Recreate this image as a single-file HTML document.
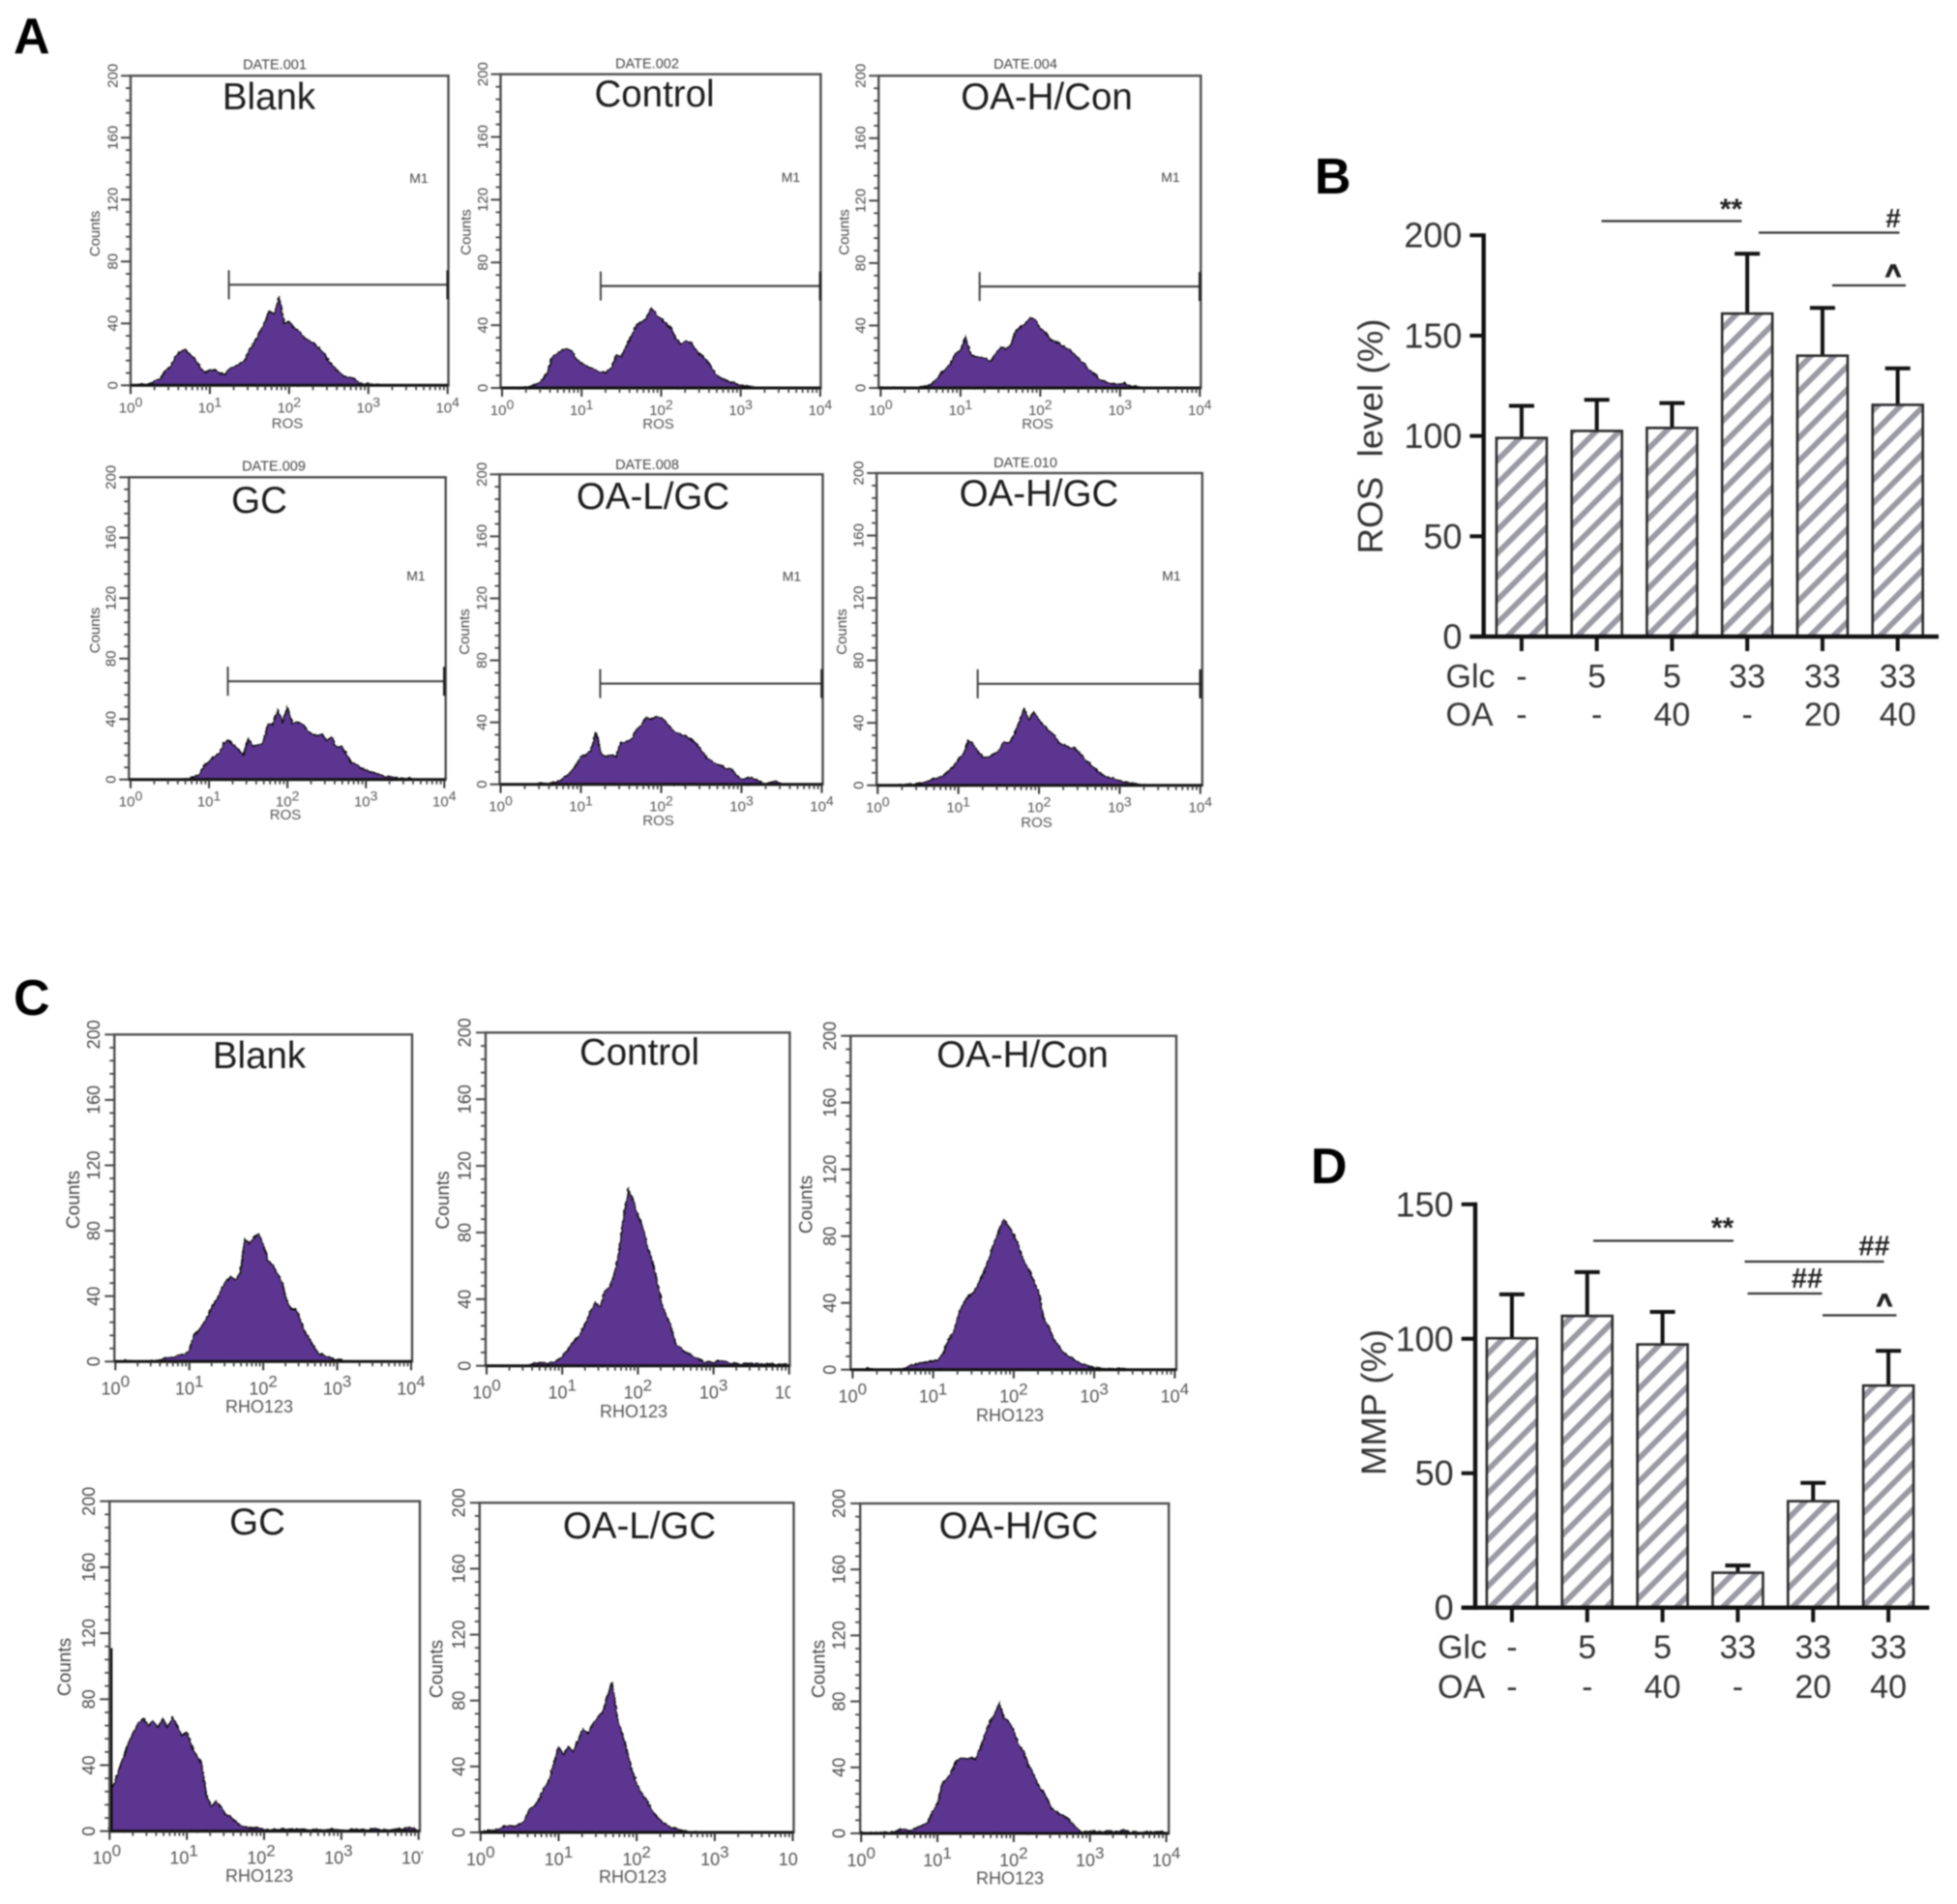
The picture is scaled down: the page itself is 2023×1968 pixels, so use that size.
<!DOCTYPE html>
<html lang="en">
<head>
<meta charset="utf-8">
<title>ROS and MMP flow cytometry figure</title>
<style>
html,body{margin:0;padding:0;background:#fff;}
#figure{position:absolute;left:0;top:0;width:2023px;height:1968px;filter:blur(0.7px);font-family:"Liberation Sans",Arial,sans-serif;}
.letter{font-size:52px;font-weight:bold;fill:#000;}
.title{font-size:38.5px;fill:#1c1c1c;text-anchor:middle;}
.date{font-size:14.5px;fill:#444;text-anchor:middle;}
.m1{font-size:14px;fill:#444;text-anchor:middle;}
.xt-a{font-size:15px;fill:#555;text-anchor:middle;}
.xt-c{font-size:18px;fill:#555;text-anchor:middle;}
.ct-a{font-size:15px;fill:#444;text-anchor:middle;}
.ct-c{font-size:19px;fill:#444;text-anchor:middle;}
.bar-axis-title{font-size:36px;fill:#333;text-anchor:middle;white-space:pre;}
.row-head{font-size:34px;fill:#333;}
.sig{font-weight:bold;fill:#222;text-anchor:middle;}
.caret{stroke:#222;stroke-width:1.2;}
.sig-line{stroke:#333;stroke-width:2.2;}
</style>
</head>
<body>
<svg id="figure" xmlns="http://www.w3.org/2000/svg" width="2023" height="1968" viewBox="0 0 2023 1968">
  <defs>
    <pattern id="hatch" patternUnits="userSpaceOnUse" width="17" height="17" patternTransform="rotate(45)">
      <rect width="17" height="17" fill="#ffffff"/>
      <rect width="5.8" height="17" fill="#9a9aa3"/>
    </pattern>
    <filter id="rough" x="-5%" y="-8%" width="110%" height="116%">
      <feTurbulence type="fractalNoise" baseFrequency="0.28" numOctaves="2" seed="7" result="noise"/>
      <feDisplacementMap in="SourceGraphic" in2="noise" scale="3.2" xChannelSelector="R" yChannelSelector="G"/>
    </filter>
  </defs>
  <rect x="0" y="0" width="2023" height="1968" fill="#ffffff"/>

  <g id="hist-layer"></g>
  <g id="bar-layer"></g>

  <!-- panel letters -->
  <text class="letter" x="14" y="55">A</text>
  <text class="letter" x="1359" y="200">B</text>
  <text class="letter" x="14" y="1049">C</text>
  <text class="letter" x="1355" y="1223">D</text>

  <!-- A: group titles -->
  <text class="title" x="278" y="113">Blank</text>
  <text class="title" x="676.5" y="110">Control</text>
  <text class="title" x="1082" y="113">OA-H/Con</text>
  <text class="title" x="268" y="530">GC</text>
  <text class="title" x="675" y="526">OA-L/GC</text>
  <text class="title" x="1074" y="523">OA-H/GC</text>

  <!-- A: date headers -->
  <text class="date" x="284" y="71.5">DATE.001</text>
  <text class="date" x="669" y="70.5">DATE.002</text>
  <text class="date" x="1060" y="71">DATE.004</text>
  <text class="date" x="283" y="486.5">DATE.009</text>
  <text class="date" x="669" y="485">DATE.008</text>
  <text class="date" x="1060" y="483">DATE.010</text>

  <!-- A: marker labels -->
  <text class="m1" x="433" y="189">M1</text>
  <text class="m1" x="817.5" y="188">M1</text>
  <text class="m1" x="1210" y="188">M1</text>
  <text class="m1" x="430" y="600">M1</text>
  <text class="m1" x="818.5" y="600.5">M1</text>
  <text class="m1" x="1211" y="600">M1</text>

  <!-- A: x titles -->
  <text class="xt-a" x="297" y="442.5">ROS</text>
  <text class="xt-a" x="680.5" y="443">ROS</text>
  <text class="xt-a" x="1072.5" y="443">ROS</text>
  <text class="xt-a" x="295" y="847">ROS</text>
  <text class="xt-a" x="680.5" y="853">ROS</text>
  <text class="xt-a" x="1071.5" y="855">ROS</text>

  <!-- A: y titles -->
  <text class="ct-a" transform="translate(103,241.5) rotate(-90)">Counts</text>
  <text class="ct-a" transform="translate(486.5,240) rotate(-90)">Counts</text>
  <text class="ct-a" transform="translate(877.5,240) rotate(-90)">Counts</text>
  <text class="ct-a" transform="translate(103,651.5) rotate(-90)">Counts</text>
  <text class="ct-a" transform="translate(485,653) rotate(-90)">Counts</text>
  <text class="ct-a" transform="translate(875,653) rotate(-90)">Counts</text>

  <!-- C: group titles -->
  <text class="title" x="268" y="1104">Blank</text>
  <text class="title" x="661" y="1100.5">Control</text>
  <text class="title" x="1057" y="1103">OA-H/Con</text>
  <text class="title" x="266" y="1586">GC</text>
  <text class="title" x="661" y="1590">OA-L/GC</text>
  <text class="title" x="1053" y="1590">OA-H/GC</text>

  <!-- C: x titles -->
  <text class="xt-c" x="268" y="1460">RHO123</text>
  <text class="xt-c" x="655" y="1465">RHO123</text>
  <text class="xt-c" x="1044" y="1469">RHO123</text>
  <text class="xt-c" x="268" y="1945">RHO123</text>
  <text class="xt-c" x="654" y="1946">RHO123</text>
  <text class="xt-c" x="1044" y="1947.5">RHO123</text>

  <!-- C: y titles -->
  <text class="ct-c" transform="translate(82,1240) rotate(-90)">Counts</text>
  <text class="ct-c" transform="translate(464,1240.5) rotate(-90)">Counts</text>
  <text class="ct-c" transform="translate(839.5,1245) rotate(-90)">Counts</text>
  <text class="ct-c" transform="translate(73,1723) rotate(-90)">Counts</text>
  <text class="ct-c" transform="translate(457.5,1725) rotate(-90)">Counts</text>
  <text class="ct-c" transform="translate(852.5,1725) rotate(-90)">Counts</text>

  <!-- B annotations -->
  <text class="bar-axis-title" transform="translate(1429,451) rotate(-90)" textLength="243" lengthAdjust="spacingAndGlyphs">ROS  level (%)</text>
  <text class="row-head" x="1494.5" y="710.5">Glc</text>
  <text class="row-head" x="1494.5" y="750">OA</text>
  <line class="sig-line" x1="1655.5" y1="228.5" x2="1800.5" y2="228.5"/>
  <text class="sig" x="1789.5" y="226" font-size="30">**</text>
  <line class="sig-line" x1="1818" y1="240.5" x2="1963.5" y2="240.5"/>
  <text class="sig" x="1957" y="235" font-size="28">#</text>
  <line class="sig-line" x1="1894" y1="295" x2="1970" y2="295"/>
  <text class="sig caret" x="1957" y="293" font-size="28">^</text>

  <!-- D annotations -->
  <text class="bar-axis-title" transform="translate(1432.5,1449.5) rotate(-90)" textLength="151" lengthAdjust="spacingAndGlyphs">MMP (%)</text>
  <text class="row-head" x="1486" y="1714">Glc</text>
  <text class="row-head" x="1486" y="1755">OA</text>
  <line class="sig-line" x1="1647" y1="1282.5" x2="1792" y2="1282.5"/>
  <text class="sig" x="1780.5" y="1279" font-size="30">**</text>
  <line class="sig-line" x1="1803.5" y1="1304" x2="1947.5" y2="1304"/>
  <text class="sig" x="1937.5" y="1297.5" font-size="29">##</text>
  <line class="sig-line" x1="1806.5" y1="1337" x2="1883.5" y2="1337"/>
  <text class="sig" x="1868" y="1331" font-size="29">##</text>
  <line class="sig-line" x1="1884" y1="1359.5" x2="1960.5" y2="1359.5"/>
  <text class="sig caret" x="1948" y="1357" font-size="28">^</text>
</svg>

<script>
// ---- Axis tick labels ----
const countTicks = [0, 40, 80, 120, 160, 200];
const decadeExponents = ['0', '1', '2', '3', '4'];
const rosTicks = [0, 50, 100, 150, 200];
const mmpTicks = [0, 50, 100, 150];

// ---- Histogram series (counts per 1/16 decade from 10^0) ----
const rosBlankCounts = [0,0,1,0.5,1,3,4.5,9,12,18,22,23,20,17,12,8,10,10,8,7,11,12,14,16,23,28,34,40,48,46,58,40,41,37,35,31,29,27,24,21,16,12,9,6,5,5,1.5,1,1,0.5,0.3];
const rosControlCounts = [0,0,0,0,0.5,0.5,1.5,2.5,5,9,19,22,24,25,24,18,16,14,13,11,10,10,13,21,20,27,33,40,42,44,51,47,44,41,38,31,28,30,29,24,21,18,14,9,6,5,3.5,3,1.5,1,0.7,0.3];
const rosOaHConCounts = [0,0,0,0.5,0.5,0,0,0.3,0.5,1,2,5,9,12,16,22,24,33,22,20,20,19,17,22,26,25,27,36,39,41,45,44,38,36,31,30,28,26,24,21,18,15,11,9,5,4,3,2.5,2.5,3,1.5,1,0.5];
const rosGcCounts = [0,0,0,0,0,0,0,0,0,0,0,0.3,1,2,3,9,12,15,17,24,26,23,20,16,27,22,23,24,37,36,46,38,48,37,38,37,33,30,29,30,26,28,21,22,17,11,10,8,6,5,4,3,2,2,1.5,1,0.5,1,0.3];
const rosOaLGcCounts = [0,0,0,0,0,0,0.3,0.3,0.5,0.5,1,1.5,2.5,5,8,12,18,19,22,34,20,18,19,18,27,27,29,35,38,43,42,44,43,40,36,33,32,31,29,26,22,18,15,13,12,10,10,6,3.5,4,4.5,3,1,0.5,1.5,2,0.5];
const rosOaHGcCounts = [0,0,0,0,0.3,0.3,0.5,0.5,1,1.5,2.5,4,5,6,9,12,17,20,29,26,21,18,18,20,22,28,27,32,40,49,42,47,42,38,35,32,27,26,24,24,21,17,14,11,8,6,5,4,3,2,1.5,1,0.5];
const rhoBlankCounts = [0,0,0.5,0.5,0,0.5,0,0.5,0.7,0.7,1,2.5,2.5,3,4,4.5,7,16,19,23,28,34,38,45,49,52,50,54,75,72,76,78,72,62,59,54,49,38,32,32,26,18,14,9,5,4,3,1.8,1.2,0.8,0.3];
const rhoControlCounts = [0,0,0,0,0,0,0,0,0,0,2,1.5,2,1.5,2,3,6,9,13,16,20,26,33,38,35,45,47,55,68,90,106,99,90,84,72,63,52,38,30,24,13,11,8,7,5,4,2,2.5,2,3,3,2,1.5,1.5,1,1.4,1.4,1.6,1.2,1,1.2,0.8,1,1];
const rhoOaHConCounts = [0,0,0,1,0,0,0,0,0,0,0.5,2,3,3.5,4,5,5,6,10,18,22,33,40,44,46,52,58,66,75,83,90,86,81,74,65,60,53,46,30,26,18,14,10,8,6,4,3,2,1,0.8,0.5,0.5,0.3,1,0.5];
const rhoGcCounts = [25,29,38,46,54,60,66,68,64,67,63,68,63,69,64,58,60,52,46,41,23,15,18,15,10,9,6,4,2.5,2,2,2,1,0.5,1,1,1.5,1,1,1.5,1,0.5,1,1,0.5,1,1.5,1,1,0.5,1,1,1,0.5,1,1.5,1,0.5,1,1,1.5,1.5,2,2];
const rhoGcLeftSpike = [111];
const rhoOaLGcCounts = [0.5,0.7,1.4,1.5,2,4,4,4,5,7,14,16,20,27,31,42,52,47,52,49,56,63,60,66,70,73,83,91,70,60,50,38,30,24,20,14,10,7,5,3,2.5,1.4,1,0.5,0.3,0.3];
const rhoOaHGcCounts = [1,0,0.3,0.5,0.5,0.5,0.8,1,2,2.5,1.5,2.5,4,5,7,13,18,30,33,38,44,46,45,46,45,52,60,68,72,79,70,68,62,54,50,42,37,30,26,21,15,13,11,10,7,4,1,1,1,1.5,0.8,1,1.5,1,1,2,1,1,0.5,0.7,1,0.7,1,1];

// ---- Bar chart series ----
const glcLevels = ['-', '5', '5', '33', '33', '33'];
const oaLevels = ['-', '-', '40', '-', '20', '40'];
const rosMeans = [99, 102.5, 104, 161, 140, 115.5];
const rosErrorTops = [115, 118, 116.4, 190.8, 163.8, 133.7];
const mmpMeans = [100.2, 108.5, 97.9, 13, 39.6, 82.6];
const mmpErrorTops = [116.5, 124.8, 110, 15.7, 46.4, 95.5];

// ---- Marker gate (M1) in axis units ----
const gateStartDecade = [1.24];
const gateEndDecade = [4];
const gateCount = [65];

// ---- Layout (plot frames in pixels) ----
const NS = 'http://www.w3.org/2000/svg';
const histLayer = document.getElementById('hist-layer');
const barLayer = document.getElementById('bar-layer');

function make(tag, attrs, parent) {
  const node = document.createElementNS(NS, tag);
  for (const k in attrs) node.setAttribute(k, attrs[k]);
  parent.appendChild(node);
  return node;
}

const smallStyle = {tick: 15, exp: 14, labelGap: 19, xBase: 28, dy: -6};
const largeStyle = {tick: 18, exp: 17, labelGap: 22, xBase: 34, dy: -8};

const histPanels = [
  {key:'a-blank', counts:rosBlankCounts, gate:true, s:smallStyle, left:135, x0:135, x4:462.7, right:463.5, top:78.3, zero:398.3},
  {key:'a-control', counts:rosControlCounts, gate:true, s:smallStyle, left:517.5, x0:519, x4:847.9, right:848.4, top:76.7, zero:401},
  {key:'a-oa-h-con', counts:rosOaHConCounts, gate:true, s:smallStyle, left:908.3, x0:910.4, x4:1240.3, right:1241.3, top:78.3, zero:401},
  {key:'a-gc', counts:rosGcCounts, gate:true, s:smallStyle, left:133.3, x0:135, x4:459.3, right:460.7, top:493.3, zero:805.7},
  {key:'a-oa-l-gc', counts:rosOaLGcCounts, gate:true, s:smallStyle, left:516.5, x0:517.5, x4:849.5, right:850.5, top:490.3, zero:810.7},
  {key:'a-oa-h-gc', counts:rosOaHGcCounts, gate:true, s:smallStyle, left:906.2, x0:907.3, x4:1240.8, right:1242.8, top:489, zero:811.7},
  {key:'c-blank', counts:rhoBlankCounts, s:largeStyle, left:118.3, x0:119.3, x4:425, right:426, top:1069.3, zero:1407.3},
  {key:'c-control', counts:rhoControlCounts, s:largeStyle, left:502, x0:503, x4:815.8, right:816.4, top:1067.3, zero:1411.7, maskX:817},
  {key:'c-oa-h-con', counts:rhoOaHConCounts, s:largeStyle, left:879.3, x0:881.4, x4:1214.4, right:1216, top:1070.7, zero:1415.7},
  {key:'c-gc', counts:rhoGcCounts, spike:rhoGcLeftSpike, s:largeStyle, labelShift:-3, left:113.3, x0:113.3, x4:432.7, right:434, top:1551.7, zero:1892.7, maskX:437},
  {key:'c-oa-l-gc', counts:rhoOaLGcCounts, s:largeStyle, left:495.8, x0:496.8, x4:819.5, right:820.5, top:1553.3, zero:1894, maskX:825},
  {key:'c-oa-h-gc', counts:rhoOaHGcCounts, s:largeStyle, left:889.2, x0:890.2, x4:1205.6, right:1208.2, top:1554, zero:1895}
];

function drawHistogram(p) {
  const xOfDecade = d => p.x0 + d * (p.x4 - p.x0) / 4;
  const yOfCount = c => p.zero - c * (p.zero - p.top) / 200;

  const g = make('g', {}, histLayer);
  
  

  // filled histogram
  let d = 'M' + xOfDecade(0).toFixed(1) + ' ' + p.zero;
  p.counts.forEach((c, i) => {
    d += 'L' + xOfDecade(i / 16).toFixed(1) + ' ' + yOfCount(c).toFixed(1);
  });
  d += 'L' + xOfDecade((p.counts.length) / 16).toFixed(1) + ' ' + p.zero + 'Z';
  const area = make('path', {d: d, fill: '#5b3491', stroke: '#111', 'stroke-width': 1.5, 'stroke-linejoin': 'miter', filter: 'url(#rough)'}, g);
  
  

  if (p.spike) {
    const sp = make('line', {x1: xOfDecade(0) + 1, x2: xOfDecade(0) + 1, y1: p.zero, y2: yOfCount(p.spike[0]), stroke: '#000', 'stroke-width': 4}, g);
    
    
  }

  // frame
  const frame = make('rect', {x: p.left, y: p.top, width: p.right - p.left, height: p.zero - p.top, fill: 'none', stroke: '#4d4d4d', 'stroke-width': 2.4}, g);
  
  

  // baseline
  const base = make('line', {x1: p.left, x2: p.right, y1: p.zero, y2: p.zero, stroke: '#111', 'stroke-width': 3}, g);
  
  

  // y minor + major ticks
  for (let c = 0; c <= 200; c += 8) {
    const major = countTicks.indexOf(c) >= 0;
    const t = make('line', {x1: p.left - (major ? 10 : 5), x2: p.left, y1: yOfCount(c), y2: yOfCount(c), stroke: '#444', 'stroke-width': major ? 2 : 1.8}, g);
    
    
  }
  countTicks.forEach(c => {
    const cx = p.left - p.s.labelGap, cy = yOfCount(c);
    const lab = make('text', {transform: 'translate(' + (cx + p.s.tick * 0.36) + ',' + cy + ') rotate(-90)', 'font-size': p.s.tick, fill: '#444', 'text-anchor': 'middle'}, g);
    lab.textContent = String(c);
    
    
  });

  // x log ticks
  for (let dec = 0; dec <= 4; dec++) {
    const maj = make('line', {x1: xOfDecade(dec), x2: xOfDecade(dec), y1: p.zero, y2: p.zero + 9, stroke: '#333', 'stroke-width': 2}, g);
    
    
    if (dec < 4) {
      for (let m = 2; m < 10; m++) {
        const xm = xOfDecade(dec + Math.log10(m));
        const mn = make('line', {x1: xm, x2: xm, y1: p.zero, y2: p.zero + 5, stroke: '#333', 'stroke-width': 1.6}, g);
        
        
      }
    }
  }
  decadeExponents.forEach((ex, i) => {
    const lab = make('text', {x: xOfDecade(i) + (p.labelShift || 0), y: p.zero + p.s.xBase, 'font-size': p.s.tick, fill: '#555', 'text-anchor': 'middle'}, g);
    
    
    const base10 = make('tspan', {}, lab);
    base10.textContent = '10';
    const sup = make('tspan', {dy: p.s.dy, 'font-size': p.s.exp}, lab);
    sup.textContent = ex;
  });
  if (p.maskX) {
    const mask = make('rect', {x: p.maskX, y: p.zero + 8, width: 16, height: p.s.xBase, fill: '#fff'}, g);
    
    
  }

  // M1 gate
  if (p.gate) {
    const gx1 = xOfDecade(gateStartDecade[0]), gx2 = xOfDecade(gateEndDecade[0]), gy = yOfCount(gateCount[0]);
    const h = make('line', {x1: gx1, x2: gx2, y1: gy, y2: gy, stroke: '#444', 'stroke-width': 2.2}, g);
    
    
    const v1 = make('line', {x1: gx1, x2: gx1, y1: gy - 15, y2: gy + 15, stroke: '#444', 'stroke-width': 2}, g);
    
    
    const v2 = make('line', {x1: gx2, x2: gx2, y1: gy - 15, y2: gy + 15, stroke: '#222', 'stroke-width': 2.6}, g);
    
    
  }
}
histPanels.forEach(drawHistogram);

const barCharts = [
  {key:'b', means:rosMeans, tops:rosErrorTops, ticks:rosTicks, max:200, axisX:1533.7, tickLeft:1519.4, axisEnd:2004, yTop:243.2, yZero:658, first:1572.9, step:77.76, rowGlc:710.5, rowOa:750},
  {key:'d', means:mmpMeans, tops:mmpErrorTops, ticks:mmpTicks, max:150, axisX:1525, tickLeft:1510.7, axisEnd:1994.3, yTop:1244.8, yZero:1661.7, first:1562.9, step:77.84, rowGlc:1714, rowOa:1755}
];

function drawBars(c) {
  const yOf = v => c.yZero - v * (c.yZero - c.yTop) / c.max;
  const xOf = i => c.first + i * c.step;
  const g = make('g', {}, barLayer);
  
  

  c.means.forEach((v, i) => {
    const cx = xOf(i);
    const err = make('line', {x1: cx, x2: cx, y1: yOf(v), y2: yOf(c.tops[i]), stroke: '#111', 'stroke-width': 4}, g);
    
    
    const cap = make('line', {x1: cx - 13, x2: cx + 13, y1: yOf(c.tops[i]), y2: yOf(c.tops[i]), stroke: '#111', 'stroke-width': 4}, g);
    
    
    const bar = make('rect', {x: cx - 26, y: yOf(v), width: 52, height: c.yZero - yOf(v), fill: 'url(#hatch)', stroke: '#2a2a2a', 'stroke-width': 2.6}, g);
    
    
    const tk = make('line', {x1: cx, x2: cx, y1: c.yZero, y2: c.yZero + 15, stroke: '#111', 'stroke-width': 4}, g);
    
    
    const glc = make('text', {x: cx, y: c.rowGlc, 'font-size': 34, fill: '#333', 'text-anchor': 'middle'}, g);
    glc.textContent = glcLevels[i];
    
    
    const oa = make('text', {x: cx, y: c.rowOa, 'font-size': 34, fill: '#333', 'text-anchor': 'middle'}, g);
    oa.textContent = oaLevels[i];
    
    
  });

  const yAxis = make('line', {x1: c.axisX, x2: c.axisX, y1: c.yTop - 2, y2: c.yZero + 2, stroke: '#111', 'stroke-width': 4.4}, g);
  
  
  const xAxis = make('line', {x1: c.tickLeft, x2: c.axisEnd, y1: c.yZero, y2: c.yZero, stroke: '#111', 'stroke-width': 4.4}, g);
  
  

  c.ticks.forEach(t => {
    const tk = make('line', {x1: c.tickLeft, x2: c.axisX, y1: yOf(t), y2: yOf(t), stroke: '#111', 'stroke-width': 4}, g);
    
    
    const lab = make('text', {x: c.tickLeft - 8, y: yOf(t) + 12.5, 'font-size': 36, fill: '#333', 'text-anchor': 'end'}, g);
    lab.textContent = String(t);
    
    
  });
}
barCharts.forEach(drawBars);
</script>
</body>
</html>
